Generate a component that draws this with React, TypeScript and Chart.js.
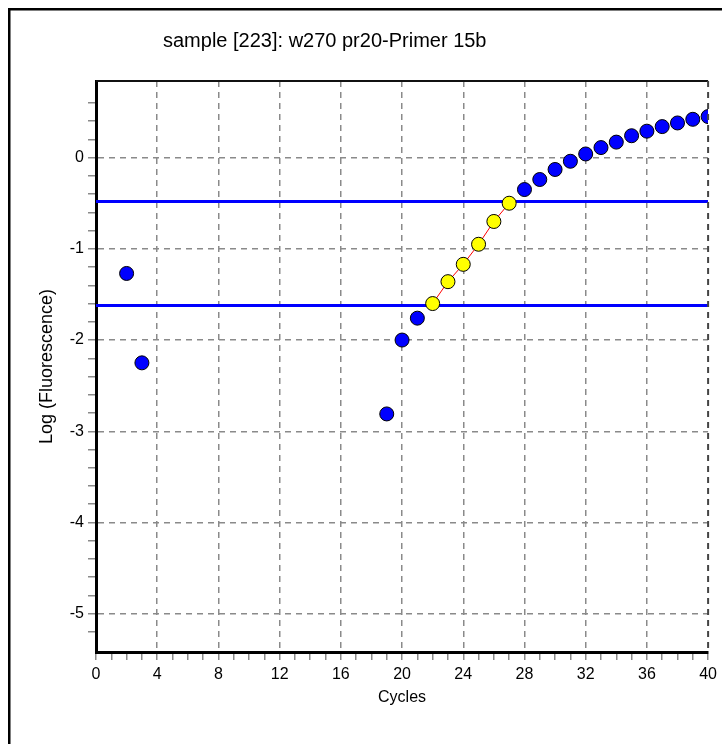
import React, { useEffect, useRef } from "react";
import { Chart, registerables } from "chart.js";

Chart.register(...registerables);

const titleText = "sample [223]: w270 pr20-Primer 15b";
const xAxisTitle = "Cycles";
const yAxisTitle = "Log (Fluorescence)";

// Cycles plotted as plain (blue) points
const blueCycles = [2, 3, 19, 20, 21, 28, 29, 30, 31, 32, 33, 34, 35, 36, 37, 38, 39, 40];
const blueValues = [-1.27, -2.25, -2.81, -2.0, -1.76, -0.35, -0.24, -0.13, -0.04, 0.04, 0.11, 0.17, 0.24, 0.29, 0.34, 0.38, 0.42, 0.45];

// Cycles used for the fit (yellow points, joined by red line)
const fitCycles = [22, 23, 24, 25, 26, 27];
const fitValues = [-1.6, -1.36, -1.17, -0.95, -0.7, -0.5];

// Threshold lines
const upperThreshold = -0.48;
const lowerThreshold = -1.62;

const xMin = 0;
const xMax = 40;
const yMin = -5.42;
const yMax = 0.84;

const FONT_FAMILY = "'Liberation Sans', Arial, sans-serif";

const isMult = (v: number, step: number) => Math.abs(v / step - Math.round(v / step)) < 1e-6;

const framePlugin = {
  id: "framePlugin",
  beforeDraw(chart: any) {
    const ctx = chart.ctx;
    ctx.save();
    ctx.fillStyle = "#ffffff";
    ctx.fillRect(0, 0, chart.width, chart.height);
    ctx.strokeStyle = "#000000";
    ctx.lineWidth = 2.5;
    ctx.strokeRect(9.25, 9.25, chart.width + 50, chart.height + 50);
    // chart title
    ctx.fillStyle = "#000000";
    ctx.font = `20px ${FONT_FAMILY}`;
    ctx.textAlign = "left";
    ctx.textBaseline = "middle";
    ctx.fillText(titleText, 163, 41);
    ctx.restore();
  },
  afterDatasetsDraw(chart: any) {
    const { ctx, chartArea } = chart;
    ctx.save();
    ctx.strokeStyle = "#111111";
    ctx.lineWidth = 2;
    ctx.beginPath();
    ctx.moveTo(chartArea.left, chartArea.top);
    ctx.lineTo(chartArea.right, chartArea.top);
    ctx.stroke();
    ctx.setLineDash([6, 5]);
    ctx.strokeStyle = "#444444";
    ctx.beginPath();
    ctx.moveTo(chartArea.right, chartArea.top);
    ctx.lineTo(chartArea.right, chartArea.bottom);
    ctx.stroke();
    ctx.restore();
  },
};

export default function App() {
  const ref = useRef<HTMLCanvasElement>(null);

  useEffect(() => {
    if (!ref.current) return;
    const blueData = blueCycles.map((c, i) => ({ x: c, y: blueValues[i] }));
    const fitData = fitCycles.map((c, i) => ({ x: c, y: fitValues[i] }));
    const font = { family: FONT_FAMILY, size: 16 };

    const chart = new Chart(ref.current, {
      type: "scatter",
      data: {
        datasets: [
          {
            label: "fit",
            data: fitData,
            showLine: true,
            borderColor: "#ff0000",
            borderWidth: 1,
            pointBackgroundColor: "#ffff00",
            pointBorderColor: "#000000",
            pointBorderWidth: 1,
            pointRadius: 7,
            order: 1,
          },
          {
            label: "data",
            data: blueData,
            showLine: false,
            pointBackgroundColor: "#0000ff",
            pointBorderColor: "#000000",
            pointBorderWidth: 1,
            pointRadius: 7,
            order: 2,
          },
          {
            label: "upper",
            data: [{ x: xMin, y: upperThreshold }, { x: xMax, y: upperThreshold }],
            showLine: true,
            borderColor: "#0000ff",
            borderWidth: 3,
            pointRadius: 0,
            order: 3,
          },
          {
            label: "lower",
            data: [{ x: xMin, y: lowerThreshold }, { x: xMax, y: lowerThreshold }],
            showLine: true,
            borderColor: "#0000ff",
            borderWidth: 3,
            pointRadius: 0,
            order: 4,
          },
        ],
      },
      options: {
        animation: false,
        responsive: false,
        layout: { padding: { left: 0, right: 10, top: 81, bottom: 0 } },
        plugins: {
          legend: { display: false },
          tooltip: { enabled: false },
          title: { display: false },
        },
        scales: {
          x: {
            type: "linear",
            min: xMin,
            max: xMax,
            afterBuildTicks: (scale: any) => {
              scale.ticks = scale.ticks.filter((t: any) => isMult(t.value, 1));
            },
            afterFit: (scale: any) => {
              scale.height = 92;
            },
            ticks: {
              stepSize: 1,
              autoSkip: false,
              maxRotation: 0,
              color: "#000000",
              font,
              padding: 5,
              callback: (v: any) => (isMult(Number(v), 4) ? String(Math.round(Number(v))) : ""),
            },
            grid: {
              color: (ctx: any) => {
                const v = ctx.tick ? ctx.tick.value : 0;
                if (v === xMin || v === xMax) return "rgba(0,0,0,0)";
                return isMult(v, 4) ? "#8a8a8a" : "rgba(0,0,0,0)";
              },
              tickColor: "#8a8a8a",
              tickLength: 8,
              lineWidth: 1.5,
            },
            border: { display: true, color: "#000000", width: 3, dash: [6, 5] },
            title: {
              display: true,
              text: xAxisTitle,
              color: "#000000",
              font,
              padding: { top: 0, bottom: 37 },
            },
          },
          y: {
            type: "linear",
            min: yMin,
            max: yMax,
            afterBuildTicks: (scale: any) => {
              scale.ticks = scale.ticks.filter((t: any) => isMult(t.value, 0.2));
            },
            afterFit: (scale: any) => {
              scale.width = 96;
            },
            ticks: {
              stepSize: 0.2,
              autoSkip: false,
              color: "#000000",
              font,
              padding: 4,
              callback: (v: any) => (isMult(Number(v), 1) ? String(Math.round(Number(v))) : ""),
            },
            grid: {
              color: (ctx: any) => {
                const v = ctx.tick ? ctx.tick.value : 0;
                return isMult(v, 1) ? "#8a8a8a" : "rgba(0,0,0,0)";
              },
              tickColor: "#8a8a8a",
              tickLength: 8,
              lineWidth: 1.5,
            },
            border: { display: true, color: "#000000", width: 3, dash: [6, 5] },
            title: {
              display: true,
              text: yAxisTitle,
              color: "#000000",
              font: { family: FONT_FAMILY, size: 18 },
              padding: { top: 36, bottom: 0 },
            },
          },
        },
      },
      plugins: [framePlugin],
    });
    return () => chart.destroy();
  }, []);

  return (
    <div style={{ position: "absolute", left: 0, top: 0, width: 722, height: 744 }}>
      <canvas ref={ref} width={722} height={744} style={{ width: 722, height: 744, display: "block" }} />
    </div>
  );
}
